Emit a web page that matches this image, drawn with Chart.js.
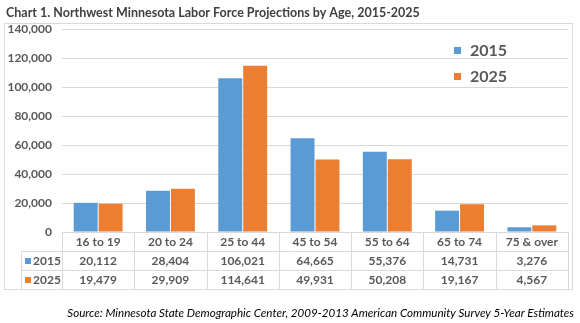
<!DOCTYPE html>
<html>
<head>
<meta charset="utf-8">
<script src="https://cdn.jsdelivr.net/npm/chart.js@4.4.1/dist/chart.umd.min.js"></script>
<style>
  html, body { margin: 0; padding: 0; background: #fff; }
  #wrap { width: 580px; height: 323px; position: relative; }
</style>
</head>
<body>
<div id="wrap"><canvas id="c" width="580" height="323"></canvas></div>
<script>
const titleText = "Chart 1. Northwest Minnesota Labor Force Projections by Age, 2015-2025";
const sourceText = "Source: Minnesota State Demographic Center, 2009-2013 American Community Survey 5-Year Estimates";
const categories = ["16 to 19", "20 to 24", "25 to 44", "45 to 54", "55 to 64", "65 to 74", "75 & over"];
const seriesLabels = ["2015", "2025"];
const values2015 = [20112, 28404, 106021, 64665, 55376, 14731, 3276];
const values2025 = [19479, 29909, 114641, 49931, 50208, 19167, 4567];
const yTicks = [0, 20000, 40000, 60000, 80000, 100000, 120000, 140000];

const BLUE = "#5B9BD5", ORANGE = "#ED7D31", TEXT = "#595959", GRID = "#D9D9D9";
const FONT = "Lato, 'Open Sans', sans-serif";
const fmt = v => v.toLocaleString("en-US");

const decorPlugin = {
  id: "decor",
  beforeDraw(chart) {
    const ctx = chart.ctx;
    ctx.save();
    ctx.fillStyle = "#fff";
    ctx.fillRect(0, 0, chart.width, chart.height);
    ctx.strokeStyle = GRID;
    ctx.lineWidth = 1;
    ctx.strokeRect(4.5, 23.5, 568, 266);
    ctx.fillStyle = "#404040";
    ctx.font = "bold 12.5px " + FONT;
    ctx.textBaseline = "middle";
    ctx.textAlign = "left";
    ctx.fillText(titleText, 6, 12.5);
    ctx.fillStyle = "#000";
    ctx.font = "italic 11.6px " + FONT;
    ctx.textAlign = "right";
    ctx.fillText(sourceText, 574, 313);
    ctx.restore();
  },
  afterDraw(chart) {
    const ctx = chart.ctx;
    const area = chart.chartArea;
    const xs = chart.scales.x;
    const n = categories.length;
    const colW = (area.right - area.left) / n;
    const top = Math.round(area.bottom) + 0.5;
    const r1 = top + 19, r2 = r1 + 19, r3 = r2 + 19;
    const labelLeft = 21.5;
    ctx.save();
    ctx.strokeStyle = GRID;
    ctx.lineWidth = 1;
    ctx.beginPath();
    ctx.moveTo(area.left, top); ctx.lineTo(area.right, top);
    [r1, r2, r3].forEach(y => { ctx.moveTo(labelLeft, y); ctx.lineTo(area.right, y); });
    ctx.moveTo(labelLeft, r1); ctx.lineTo(labelLeft, r3);
    for (let i = 0; i <= n; i++) {
      const x = Math.round(area.left + i * colW) + 0.5;
      ctx.moveTo(x, top); ctx.lineTo(x, r3);
    }
    ctx.stroke();

    ctx.fillStyle = TEXT;
    ctx.font = "bold 12px " + FONT;
    ctx.textAlign = "center";
    ctx.textBaseline = "middle";
    const rows = [values2015, values2025];
    categories.forEach((c, i) => {
      const cx = xs.getPixelForValue(i);
      ctx.fillText(c, cx, (top + r1) / 2 + 0.5);
      rows.forEach((vals, k) => {
        const yy = k === 0 ? (r1 + r2) / 2 : (r2 + r3) / 2;
        ctx.fillText(fmt(vals[i]), cx, yy + 0.5);
      });
    });
    const colors = [BLUE, ORANGE];
    seriesLabels.forEach((s, k) => {
      const yy = k === 0 ? (r1 + r2) / 2 : (r2 + r3) / 2;
      ctx.fillStyle = colors[k];
      ctx.fillRect(25, yy - 3, 6, 6);
      ctx.fillStyle = TEXT;
      ctx.textAlign = "left";
      ctx.fillText(s, 33, yy + 0.5);
    });

    ctx.font = "bold 16px " + FONT;
    ctx.textBaseline = "middle";
    const ly = [50, 76];
    chart.data.datasets.forEach((ds, k) => {
      ctx.fillStyle = ds.backgroundColor;
      ctx.fillRect(454, ly[k] - 3, 7, 7);
      ctx.fillStyle = TEXT;
      ctx.textAlign = "left";
      ctx.fillText(ds.label, 470, ly[k] + 1);
    });
    ctx.restore();
  }
};

new Chart(document.getElementById("c"), {
  type: "bar",
  data: {
    labels: categories,
    datasets: [
      { label: seriesLabels[0], data: values2015, backgroundColor: BLUE, categoryPercentage: 0.69, barPercentage: 0.96 },
      { label: seriesLabels[1], data: values2025, backgroundColor: ORANGE, categoryPercentage: 0.69, barPercentage: 0.96 }
    ]
  },
  options: {
    responsive: false,
    animation: false,
    devicePixelRatio: 1,
    layout: { padding: { top: 29, right: 12, bottom: 91, left: 0 } },
    plugins: {
      legend: { display: false },
      title: { display: false },
      tooltip: { enabled: false }
    },
    scales: {
      x: { display: false },
      y: {
        min: 0, max: 140000,
        afterBuildTicks: s => { s.ticks = yTicks.map(v => ({ value: v })); },
        afterFit: s => { s.width = 62; },
        border: { display: false },
        grid: { color: GRID, drawTicks: false, lineWidth: 1 },
        ticks: {
          padding: 10,
          color: TEXT,
          font: { family: FONT, size: 12, weight: "bold" },
          callback: v => fmt(v)
        }
      }
    }
  },
  plugins: [decorPlugin]
});
</script>
</body>
</html>
